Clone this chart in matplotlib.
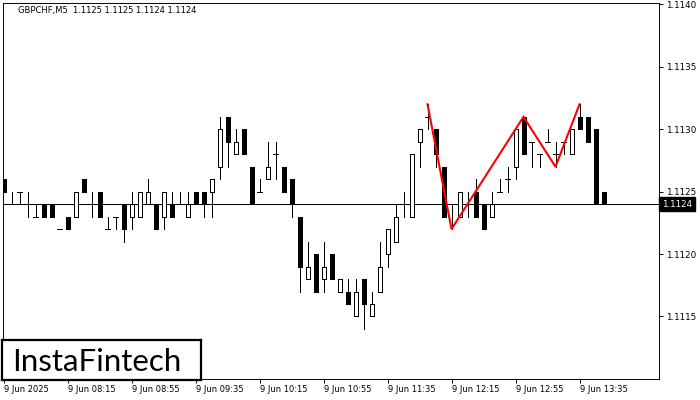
import matplotlib
matplotlib.use("Agg")
import matplotlib.pyplot as plt
import matplotlib.transforms as mtransforms

# GBPCHF M5 candles, 07:35 -> 13:50 (4-digit quotes as shown on the chart)
opens = [1.1126, 1.1124, 1.1125, 1.1124, 1.1123, 1.1124, 1.1124, 1.1122, 1.1123, 1.1123,
         1.1126, 1.1124, 1.1125, 1.1122, 1.1123, 1.1124, 1.1123, 1.1123, 1.1124, 1.1124,
         1.1123, 1.1124, 1.1124, 1.1123, 1.1125, 1.1125, 1.1125, 1.1127, 1.1131, 1.1128,
         1.1130, 1.1127, 1.1125, 1.1126, 1.1128, 1.1127, 1.1126, 1.1123, 1.1118, 1.1120,
         1.1118, 1.1120, 1.1117, 1.1117, 1.1115, 1.1118, 1.1115, 1.1117, 1.1120, 1.1121,
         1.1124, 1.1123, 1.1129, 1.1131, 1.1130, 1.1127, 1.1124, 1.1123, 1.1124, 1.1125,
         1.1124, 1.1123, 1.1125, 1.1126, 1.1127, 1.1131, 1.1129, 1.1128, 1.1129, 1.1128,
         1.1129, 1.1128, 1.1131, 1.1131, 1.1130, 1.1125]
highs = [1.1126, 1.1125, 1.1125, 1.1125, 1.1124, 1.1124, 1.1124, 1.1122, 1.1123, 1.1125,
         1.1126, 1.1125, 1.1125, 1.1123, 1.1123, 1.1124, 1.1125, 1.1125, 1.1126, 1.1124,
         1.1125, 1.1125, 1.1125, 1.1125, 1.1125, 1.1125, 1.1126, 1.1131, 1.1131, 1.1130,
         1.1130, 1.1127, 1.1126, 1.1129, 1.1129, 1.1127, 1.1126, 1.1123, 1.1121, 1.1120,
         1.1121, 1.1120, 1.1118, 1.1118, 1.1118, 1.1118, 1.1117, 1.1121, 1.1122, 1.1124,
         1.1125, 1.1128, 1.1130, 1.1132, 1.1130, 1.1127, 1.1124, 1.1125, 1.1125, 1.1126,
         1.1124, 1.1125, 1.1126, 1.1127, 1.1130, 1.1131, 1.1129, 1.1128, 1.1130, 1.1129,
         1.1129, 1.1130, 1.1132, 1.1131, 1.1130, 1.1125]
lows = [1.1125, 1.1124, 1.1124, 1.1123, 1.1123, 1.1123, 1.1123, 1.1122, 1.1122, 1.1123,
        1.1125, 1.1123, 1.1123, 1.1122, 1.1122, 1.1121, 1.1122, 1.1123, 1.1124, 1.1122,
        1.1122, 1.1123, 1.1124, 1.1123, 1.1124, 1.1123, 1.1123, 1.1126, 1.1127, 1.1128,
        1.1128, 1.1124, 1.1125, 1.1126, 1.1126, 1.1125, 1.1123, 1.1117, 1.1118, 1.1117,
        1.1117, 1.1118, 1.1117, 1.1116, 1.1115, 1.1114, 1.1115, 1.1117, 1.1119, 1.1121,
        1.1123, 1.1123, 1.1127, 1.1130, 1.1127, 1.1123, 1.1122, 1.1123, 1.1123, 1.1123,
        1.1122, 1.1123, 1.1125, 1.1125, 1.1126, 1.1128, 1.1127, 1.1127, 1.1129, 1.1127,
        1.1128, 1.1128, 1.1130, 1.1129, 1.1124, 1.1124]
closes = [1.1125, 1.1124, 1.1125, 1.1124, 1.1123, 1.1123, 1.1123, 1.1122, 1.1122, 1.1125,
          1.1125, 1.1124, 1.1123, 1.1122, 1.1123, 1.1122, 1.1124, 1.1125, 1.1125, 1.1122,
          1.1125, 1.1123, 1.1124, 1.1124, 1.1124, 1.1124, 1.1126, 1.1130, 1.1129, 1.1129,
          1.1128, 1.1124, 1.1125, 1.1127, 1.1128, 1.1125, 1.1124, 1.1119, 1.1119, 1.1117,
          1.1119, 1.1118, 1.1118, 1.1116, 1.1117, 1.1116, 1.1116, 1.1119, 1.1122, 1.1123,
          1.1124, 1.1128, 1.1130, 1.1131, 1.1128, 1.1123, 1.1124, 1.1125, 1.1124, 1.1123,
          1.1122, 1.1124, 1.1125, 1.1126, 1.1130, 1.1128, 1.1129, 1.1128, 1.1129, 1.1128,
          1.1129, 1.1130, 1.1130, 1.1129, 1.1124, 1.1124]

# red pattern outline (bar index, price)
pattern_idx = [53, 56, 65, 69, 72]
pattern_px = [1.1132, 1.1122, 1.1131, 1.1127, 1.1132]

bid = 1.1124
price_ticks = [1.1115, 1.1120, 1.1125, 1.1130, 1.1135, 1.1140]
time_tick_idx = [0, 8, 16, 24, 32, 40, 48, 56, 64, 72]
time_labels = ["9 Jun 2025", "9 Jun 08:15", "9 Jun 08:55", "9 Jun 09:35", "9 Jun 10:15",
               "9 Jun 10:55", "9 Jun 11:35", "9 Jun 12:15", "9 Jun 12:55", "9 Jun 13:35"]
header = "GBPCHF,M5  1.1125 1.1125 1.1124 1.1124"

W, H = 700, 400
fig = plt.figure(figsize=(7, 4), dpi=100)
fig.patch.set_facecolor("white")

# plot area in pixel terms
left_px, right_px, top_px, bottom_px = 2.5, 659.3, 2.7, 379.0
ax = fig.add_axes([left_px / W, 1 - bottom_px / H,
                   (right_px - left_px) / W, (bottom_px - top_px) / H])

BODY_W = 0.5
TICK_HALF = 0.3125
LW = 0.68  # ~1 px

ax.axhline(bid, color="black", linewidth=LW, zorder=1, antialiased=False)

for i, (o, h, l, c) in enumerate(zip(opens, highs, lows, closes)):
    if h > l:
        ax.vlines(i, l, h, color="black", linewidth=LW, zorder=2, antialiased=False)
    if c > o:
        ax.bar(i, c - o, bottom=o, width=BODY_W, facecolor="white",
               edgecolor="black", linewidth=LW, zorder=3, antialiased=False)
    elif c < o:
        ax.bar(i, o - c, bottom=c, width=BODY_W, facecolor="black",
               edgecolor="black", linewidth=LW, zorder=3, antialiased=False)
    else:
        ax.hlines(o, i - TICK_HALF, i + TICK_HALF, color="black",
                  linewidth=LW, zorder=3, antialiased=False)

ax.plot(pattern_idx, pattern_px, color="#ff0000", linewidth=1.5, zorder=5,
        solid_joinstyle="miter")

ax.set_xlim(-0.125, 81.975)
ax.set_ylim(1.110999, 1.1140144)

for s in ax.spines.values():
    s.set_linewidth(LW)
    s.set_color("black")

ax.yaxis.tick_right()
ax.set_yticks(price_ticks)
ax.set_yticklabels([f"{p:.4f}" for p in price_ticks])
ax.tick_params(axis="y", direction="out", length=3, width=LW, pad=2,
               labelsize=6.3, colors="black")
ax.set_xticks(time_tick_idx)
ax.set_xticklabels(time_labels)
ax.tick_params(axis="x", direction="out", length=3, width=LW, pad=1.5,
               labelsize=6, colors="black")
for lab in ax.get_xticklabels():
    lab.set_horizontalalignment("left")

# current price box on the right scale
trans = mtransforms.blended_transform_factory(ax.transAxes, ax.transData)
ax.text(1.004, bid, f"{bid:.4f}", transform=trans, fontsize=6.3, color="white",
        va="center", ha="left",
        bbox=dict(boxstyle="square,pad=0.3", fc="black", ec="black"))

fig.text(18 / W, 1 - 10 / H, header, fontsize=6, va="center", ha="left", color="black")

# logo box bottom-left
logo = fig.add_axes([2 / W, 1 - 380 / H, 199 / W, 40 / H])
logo.set_facecolor("white")
logo.set_xticks([])
logo.set_yticks([])
for s in logo.spines.values():
    s.set_linewidth(1.6)
    s.set_color("black")
logo.text(0.475, 0.45, "InstaFintech", fontsize=22.5, family="Lato",
          ha="center", va="center", color="black")

fig.savefig("out.png", dpi=100)
